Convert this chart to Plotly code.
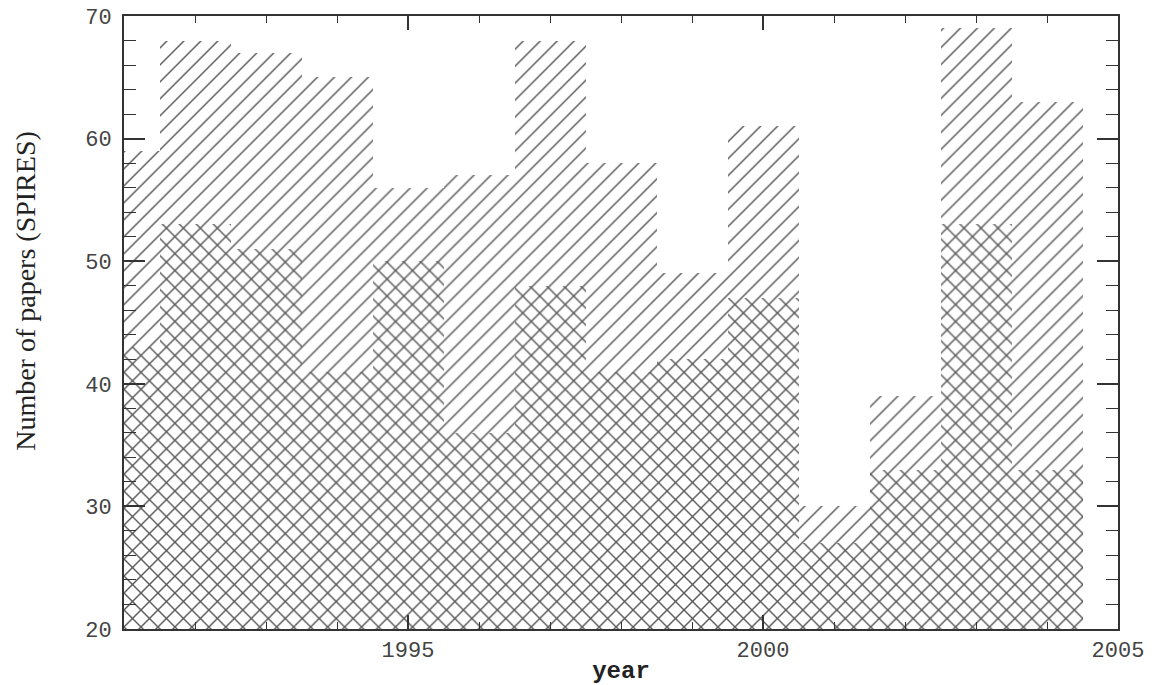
import plotly.graph_objects as go

years = [1991, 1992, 1993, 1994, 1995, 1996, 1997, 1998, 1999, 2000, 2001, 2002, 2003, 2004]
total_papers = [59, 68, 67, 65, 56, 57, 68, 58, 49, 61, 30, 39, 69, 63]
subset_papers = [43, 53, 51, 41, 50, 36, 48, 41, 42, 47, 27, 33, 53, 33]

hatch = "#5a5a5a"
axis_col = "#333333"

fig = go.Figure()
fig.add_trace(go.Bar(
    x=years, y=total_papers, width=1.0, base=0,
    marker=dict(color=hatch, line=dict(width=0),
                pattern=dict(shape="/", fillmode="replace", fgcolor=hatch,
                             bgcolor="white", size=12, solidity=0.12)),
    showlegend=False, hoverinfo="x+y",
))
fig.add_trace(go.Bar(
    x=years, y=subset_papers, width=1.0, base=0,
    marker=dict(color=hatch, line=dict(width=0),
                pattern=dict(shape="\\", fillmode="replace", fgcolor=hatch,
                             bgcolor="rgba(0,0,0,0)", size=12, solidity=0.12)),
    showlegend=False, hoverinfo="x+y",
))

fig.update_layout(
    width=1163, height=685,
    margin=dict(l=124, r=45, t=16, b=56, autoexpand=False),
    paper_bgcolor="white", plot_bgcolor="white",
    barmode="overlay", bargap=0,
    font=dict(family="Liberation Mono", color=axis_col),
)
fig.update_xaxes(
    range=[1991, 2005], tickvals=[1995, 2000, 2005], ticktext=["1995", "2000", "2005"],
    ticks="inside", ticklen=14, tickwidth=1.5, tickcolor=axis_col,
    minor=dict(tick0=1991, dtick=1, ticks="inside", ticklen=7, tickwidth=1, tickcolor=axis_col),
    showline=True, linewidth=2, linecolor=axis_col, mirror="allticks",
    showgrid=False, zeroline=False, automargin=False,
    tickfont=dict(family="Liberation Mono", size=22, color="#444"),
    title=dict(text="<b>year</b>", font=dict(family="Liberation Mono", size=24, color="#222"), standoff=4),
)
fig.update_yaxes(
    range=[20, 70], tickvals=[20, 30, 40, 50, 60, 70],
    ticks="inside", ticklen=21, tickwidth=1.5, tickcolor=axis_col,
    minor=dict(tick0=20, dtick=2, ticks="inside", ticklen=12, tickwidth=1, tickcolor=axis_col),
    showline=True, linewidth=2, linecolor=axis_col, mirror="allticks",
    showgrid=False, zeroline=False, automargin=False,
    tickfont=dict(family="Liberation Mono", size=22, color="#444"),
    ticklabelstandoff=6,
)
fig.add_annotation(
    text="Number of papers (SPIRES)", textangle=-90,
    xref="paper", yref="paper", x=-0.099, y=0.551,
    xanchor="center", yanchor="middle", showarrow=False,
    font=dict(family="Liberation Serif", size=28, color="#222"),
)

fig.write_html("out.html")
